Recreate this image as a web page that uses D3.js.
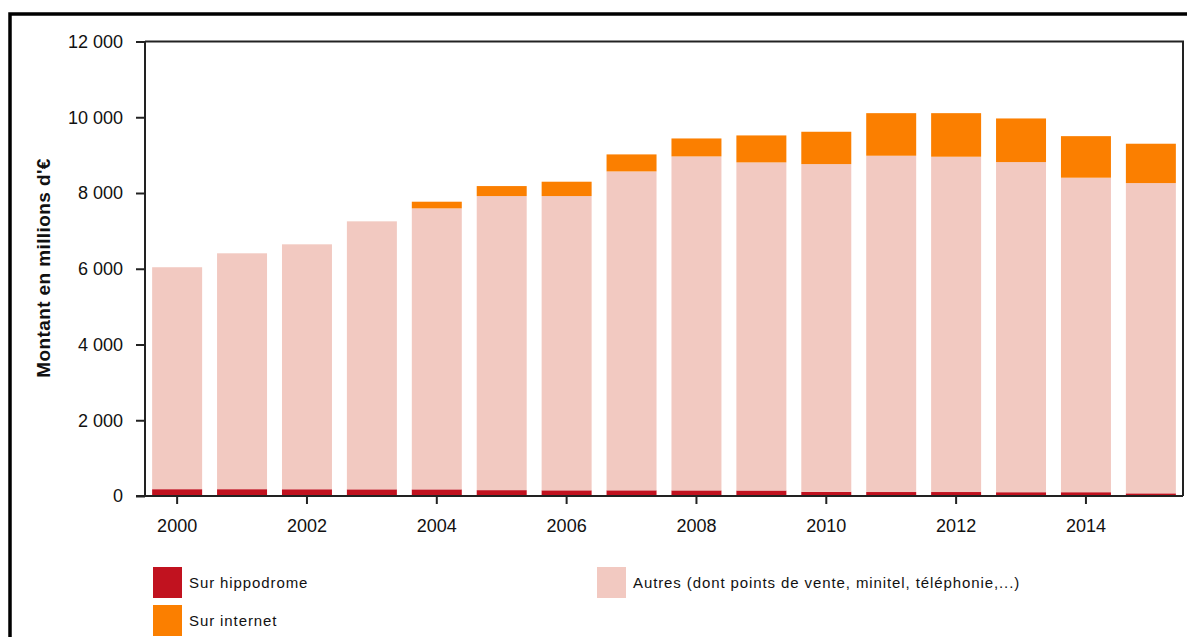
<!DOCTYPE html>
<html>
<head>
<meta charset="utf-8">
<script src="https://cdn.jsdelivr.net/npm/d3@7"></script>
<style>
  body { margin: 0; background: #fff; }
  svg { display: block; font-family: "Liberation Sans", Arial, sans-serif; }
</style>
</head>
<body>
<div id="plot"></div>
<script>
// montants en millions d'€
const years = [2000, 2001, 2002, 2003, 2004, 2005, 2006, 2007, 2008, 2009, 2010, 2011, 2012, 2013, 2014, 2015];
const hippodrome = [180, 180, 178, 176, 175, 155, 150, 150, 148, 145, 110, 105, 105, 100, 100, 70];
const autres = [5860, 6228, 6467, 7076, 7419, 7764, 7769, 8420, 8818, 8663, 8653, 8879, 8853, 8716, 8304, 8192];
const internet = [0, 0, 0, 0, 176, 264, 379, 449, 474, 712, 854, 1124, 1150, 1152, 1097, 1039];
const yTicks = [0, 2000, 4000, 6000, 8000, 10000, 12000];
const xTickYears = [2000, 2002, 2004, 2006, 2008, 2010, 2012, 2014];

const colors = { hippodrome: "#c1121f", autres: "#f2c9c1", internet: "#fb7f00" };

const W = 1187, H = 637;
const plotLeft = 145, plotRight = 1183, plotTop = 41.5, plotBottom = 496;

const svg = d3.select("#plot").append("svg")
    .attr("width", W)
    .attr("height", H);

// cadre extérieur
svg.append("path")
    .attr("d", `M10,${H + 5}V14H${W + 5}`)
    .attr("fill", "none")
    .attr("stroke", "#000")
    .attr("stroke-width", 3.5);

const x = d3.scaleBand()
    .domain(years)
    .range([plotLeft, plotRight])
    .paddingInner(0.23)
    .paddingOuter(0.11);

const y = d3.scaleLinear()
    .domain([0, 12000])
    .range([plotBottom, plotTop]);

const rows = years.map((yr, i) => ({ year: yr, hippodrome: hippodrome[i], autres: autres[i], internet: internet[i] }));
const keys = ["hippodrome", "autres", "internet"];
const stacked = d3.stack().keys(keys)(rows);

svg.append("g")
    .selectAll("g")
    .data(stacked)
    .join("g")
    .attr("fill", d => colors[d.key])
    .selectAll("rect")
    .data(d => d)
    .join("rect")
    .attr("x", d => x(d.data.year))
    .attr("width", x.bandwidth())
    .attr("y", d => y(d[1]))
    .attr("height", d => Math.max(0, y(d[0]) - y(d[1])));

// cadre du graphique (haut et droite)
svg.append("path")
    .attr("d", `M${plotLeft},${plotTop}H${plotRight}V${plotBottom}`)
    .attr("fill", "none")
    .attr("stroke", "#222")
    .attr("stroke-width", 2);

const fmt = v => d3.format(",")(v).replace(/,/g, " ");

const yAxis = svg.append("g")
    .attr("transform", `translate(${plotLeft},0)`)
    .call(d3.axisLeft(y).tickValues(yTicks).tickSize(9).tickPadding(13).tickFormat(fmt));
yAxis.select(".domain").attr("stroke", "#222").attr("stroke-width", 2).attr("d", `M0,${plotTop}V${plotBottom}`);
yAxis.selectAll(".tick line").attr("stroke", "#222").attr("stroke-width", 2);
yAxis.selectAll(".tick text").attr("font-size", 18).attr("fill", "#111").attr("font-family", "Liberation Sans, Arial, sans-serif");

const xAxis = svg.append("g")
    .attr("transform", `translate(0,${plotBottom})`)
    .call(d3.axisBottom(x).tickValues(xTickYears).tickSize(8).tickPadding(15));
xAxis.select(".domain").attr("stroke", "#222").attr("stroke-width", 2).attr("d", `M${plotLeft - 9},0H${plotRight}`);
xAxis.selectAll(".tick line").attr("stroke", "#222").attr("stroke-width", 2);
xAxis.selectAll(".tick text").attr("font-size", 18).attr("fill", "#111").attr("font-family", "Liberation Sans, Arial, sans-serif");

svg.append("text")
    .attr("transform", `translate(50,268) rotate(-90)`)
    .attr("text-anchor", "middle")
    .attr("font-size", 19)
    .attr("font-weight", "bold")
    .attr("letter-spacing", 0.4)
    .attr("fill", "#111")
    .text("Montant en millions d'€");

// légende
const legend = [
    { key: "hippodrome", label: "Sur hippodrome", x: 153, y: 567 },
    { key: "internet", label: "Sur internet", x: 153, y: 605 },
    { key: "autres", label: "Autres (dont points de vente, minitel, téléphonie,...)", x: 597, y: 567 }
];

const lg = svg.append("g").selectAll("g")
    .data(legend)
    .join("g")
    .attr("transform", d => `translate(${d.x},${d.y})`);

lg.append("rect")
    .attr("width", 29)
    .attr("height", 31)
    .attr("fill", d => colors[d.key]);

lg.append("text")
    .attr("x", 36)
    .attr("y", 21)
    .attr("font-size", 15)
    .attr("fill", "#111")
    .attr("letter-spacing", 0.9)
    .text(d => d.label);
</script>
</body>
</html>
